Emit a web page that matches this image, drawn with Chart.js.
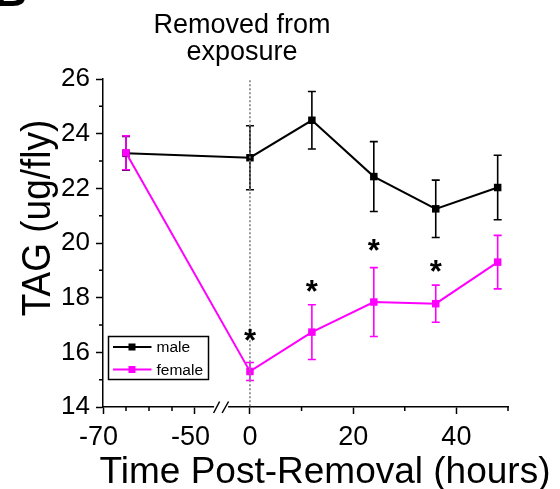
<!DOCTYPE html>
<html>
<head>
<meta charset="utf-8">
<script src="https://cdn.jsdelivr.net/npm/chart.js@4.4.1/dist/chart.umd.min.js"></script>
<style>
  html, body { margin: 0; padding: 0; background: #fff; }
  #wrap { width: 560px; height: 489px; }
</style>
</head>
<body>
<div id="wrap"><canvas id="tagChart"></canvas></div>
<script>
// hours after removal from exposure (negative = still exposed)
const hours = [-65, 0, 12, 24, 36, 48];
const maleTag = [23.28, 23.12, 24.49, 22.43, 21.25, 22.03];
const maleErr = [0.62, 1.17, 1.05, 1.28, 1.05, 1.18];
const femaleTag = [23.3, 15.3, 16.74, 17.84, 17.78, 19.3];
const femaleErr = [0.62, 0.33, 1.0, 1.26, 0.68, 0.98];

// significance stars (hour, height in ug/fly)
const starHours = [0, 12, 24, 36];
const starLevels = [16.7, 18.5, 20.0, 19.25];

const xTicks = [-70, -65, -60, -55, -50, 0, 10, 20, 30, 40, 50];
const xLabels = [-70, -50, 0, 20, 40];
const yLabels = [14, 16, 18, 20, 22, 24, 26];

const FONT = "'Liberation Sans', Arial, sans-serif";
const MAGENTA = "#ff00ff";

// x axis is broken between -44 and -5.3 h
const leftPart = { min: -70, max: -44, frac: 0.2953 };
const rightPart = { min: -5.3, max: 50 };

function hourToFrac(v) {
  if (v <= leftPart.max) return (v - leftPart.min) / (leftPart.max - leftPart.min) * leftPart.frac;
  if (v >= rightPart.min) return leftPart.frac + (v - rightPart.min) / (rightPart.max - rightPart.min) * (1 - leftPart.frac);
  return leftPart.frac;
}
function fracToHour(f) {
  if (f <= leftPart.frac) return leftPart.min + f / leftPart.frac * (leftPart.max - leftPart.min);
  return rightPart.min + (f - leftPart.frac) / (1 - leftPart.frac) * (rightPart.max - rightPart.min);
}

class BrokenScale extends Chart.LinearScale {
  getPixelForValue(value) {
    return value === null ? NaN : this.getPixelForDecimal(hourToFrac(value));
  }
  getValueForPixel(pixel) {
    return fracToHour(this.getDecimalForPixel(pixel));
  }
}
BrokenScale.id = "broken";
BrokenScale.defaults = Chart.LinearScale.defaults;
Chart.register(BrokenScale);

function pts(ys) {
  return hours.map((h, i) => ({ x: h, y: ys[i] }));
}

const extras = {
  id: "extras",
  beforeDatasetsDraw(chart) {
    const { ctx, scales: { x, y } } = chart;
    // error bars
    const sets = [[maleTag, maleErr, "#000"], [femaleTag, femaleErr, MAGENTA]];
    ctx.save();
    ctx.lineWidth = 1.6;
    sets.forEach(([vals, errs, col]) => {
      ctx.strokeStyle = col;
      hours.forEach((h, i) => {
        const px = x.getPixelForValue(h);
        const top = y.getPixelForValue(vals[i] + errs[i]);
        const bot = y.getPixelForValue(vals[i] - errs[i]);
        ctx.beginPath();
        ctx.moveTo(px, top); ctx.lineTo(px, bot);
        ctx.moveTo(px - 4, top); ctx.lineTo(px + 4, top);
        ctx.moveTo(px - 4, bot); ctx.lineTo(px + 4, bot);
        ctx.stroke();
      });
    });
    ctx.restore();
  },
  afterDatasetsDraw(chart) {
    const { ctx, scales: { x, y } } = chart;
    // removal marker at t = 0
    const px = x.getPixelForValue(0);
    ctx.save();
    ctx.strokeStyle = "#808080";
    ctx.lineWidth = 1.6;
    ctx.setLineDash([2, 2]);
    ctx.beginPath();
    ctx.moveTo(px, y.getPixelForValue(25.95));
    ctx.lineTo(px, y.bottom);
    ctx.stroke();
    ctx.restore();
  },
  afterDraw(chart) {
    const { ctx, scales: { x, y } } = chart;
    ctx.save();
    ctx.strokeStyle = "#000";
    ctx.lineWidth = 1.5;

    // minor ticks
    ctx.beginPath();
    xTicks.filter(v => !xLabels.includes(v)).forEach(v => {
      const px = x.getPixelForValue(v);
      ctx.moveTo(px, y.bottom); ctx.lineTo(px, y.bottom + 4);
    });
    for (let v = y.min + 1; v < y.max; v += 2) {
      const py = y.getPixelForValue(v);
      ctx.moveTo(x.left - 4, py); ctx.lineTo(x.left, py);
    }
    ctx.stroke();

    // axis break
    const bx = x.getPixelForValue(leftPart.max) - 1.5;
    const by = y.bottom;
    ctx.fillStyle = "#fff";
    ctx.fillRect(bx - 7, by - 2, 14, 4);
    ctx.beginPath();
    ctx.moveTo(bx - 7.5, by + 6); ctx.lineTo(bx - 1.5, by - 5.5);
    ctx.moveTo(bx + 1, by + 6); ctx.lineTo(bx + 7.5, by - 5.5);
    ctx.stroke();

    // stars
    ctx.fillStyle = "#000";
    ctx.textAlign = "center";
    ctx.textBaseline = "alphabetic";
    ctx.font = "bold 31px " + FONT;
    starHours.forEach((h, i) => {
      ctx.fillText("*", x.getPixelForValue(h), y.getPixelForValue(starLevels[i]) + 18);
    });

    // annotation above the plot
    ctx.font = "27px " + FONT;
    ctx.fillText("Removed from", 242, 33);
    ctx.fillText("exposure", 242, 60);

    // axis titles
    ctx.font = "37px " + FONT;
    ctx.fillText("Time Post-Removal (hours)", 325, 483);
    ctx.save();
    ctx.translate(50, 218);
    ctx.rotate(-Math.PI / 2);
    ctx.scale(1, 1.1);
    ctx.fillText("TAG (ug/fly)", 0, 0);
    ctx.restore();

    // legend
    const lx = 108.5, ly = 336.5;
    ctx.lineWidth = 1.5;
    ctx.strokeStyle = "#000";
    ctx.strokeRect(lx, ly, 100, 43);
    ctx.font = "15.5px " + FONT;
    ctx.textAlign = "left";
    ctx.textBaseline = "middle";
    chart.data.datasets.forEach((ds, i) => {
      const rowY = ly + 10.5 + i * 22.5;
      ctx.strokeStyle = ds.borderColor;
      ctx.lineWidth = 2;
      ctx.beginPath();
      ctx.moveTo(lx + 4.5, rowY); ctx.lineTo(lx + 43, rowY);
      ctx.stroke();
      ctx.fillStyle = ds.borderColor;
      ctx.fillRect(lx + 20, rowY - 3.5, 7, 7);
      ctx.fillStyle = "#000";
      ctx.fillText(ds.label, lx + 48, rowY + 1);
    });

    // panel letter (clipped at the top edge)
    ctx.font = "bold 46px " + FONT;
    ctx.textAlign = "left";
    ctx.textBaseline = "alphabetic";
    ctx.fillText("B", -6, 6);
    ctx.restore();
  }
};

const ctxEl = document.getElementById("tagChart").getContext("2d");

const tagChart = new Chart(ctxEl, {
  type: "line",
  data: {
    datasets: [
      {
        label: "male",
        data: pts(maleTag),
        borderColor: "#000",
        backgroundColor: "#000",
        borderWidth: 2,
        pointStyle: "rect",
        pointRadius: 5.3,
        pointBorderWidth: 0,
        order: 1,
      },
      {
        label: "female",
        data: pts(femaleTag),
        borderColor: MAGENTA,
        backgroundColor: MAGENTA,
        borderWidth: 2,
        pointStyle: "rect",
        pointRadius: 5.3,
        pointBorderWidth: 0,
        order: 0,
      },
    ],
  },
  options: {
    responsive: true,
    maintainAspectRatio: false,
    animation: false,
    events: [],
    layout: { padding: { top: 79, right: 52, left: 0, bottom: 0 } },
    plugins: {
      legend: { display: false },
      tooltip: { enabled: false },
    },
    scales: {
      x: {
        type: "broken",
        min: -70,
        max: 50,
        afterBuildTicks: (s) => { s.ticks = xTicks.map(v => ({ value: v })); },
        afterFit: (s) => { s.height = 82; },
        border: { display: true, color: "#000", width: 1.5 },
        grid: {
          display: true,
          drawOnChartArea: false,
          drawTicks: true,
          tickLength: 7,
          tickWidth: 1.5,
          tickColor: (c) => (c.tick && xLabels.includes(c.tick.value) ? "#000" : "rgba(0,0,0,0)"),
        },
        ticks: {
          autoSkip: false,
          maxRotation: 0,
          padding: 7,
          color: "#000",
          font: { family: FONT, size: 27 },
          callback: (v) => (xLabels.includes(v) ? (v < 0 ? v + "\u2004" : String(v)) : ""),
        },
      },
      y: {
        min: 14,
        max: 26,
        afterFit: (s) => { s.width = 103; },
        border: { display: true, color: "#000", width: 1.5 },
        grid: {
          display: true,
          drawOnChartArea: false,
          drawTicks: true,
          tickLength: 7,
          tickWidth: 1.5,
          tickColor: (c) => (c.tick && yLabels.includes(c.tick.value) ? "#000" : "rgba(0,0,0,0)"),
        },
        ticks: {
          stepSize: 1,
          autoSkip: false,
          padding: 6,
          color: "#000",
          font: { family: FONT, size: 26 },
          callback: (v) => (yLabels.includes(v) ? String(v) : ""),
        },
      },
    },
  },
  plugins: [extras],
});
</script>
</body>
</html>
